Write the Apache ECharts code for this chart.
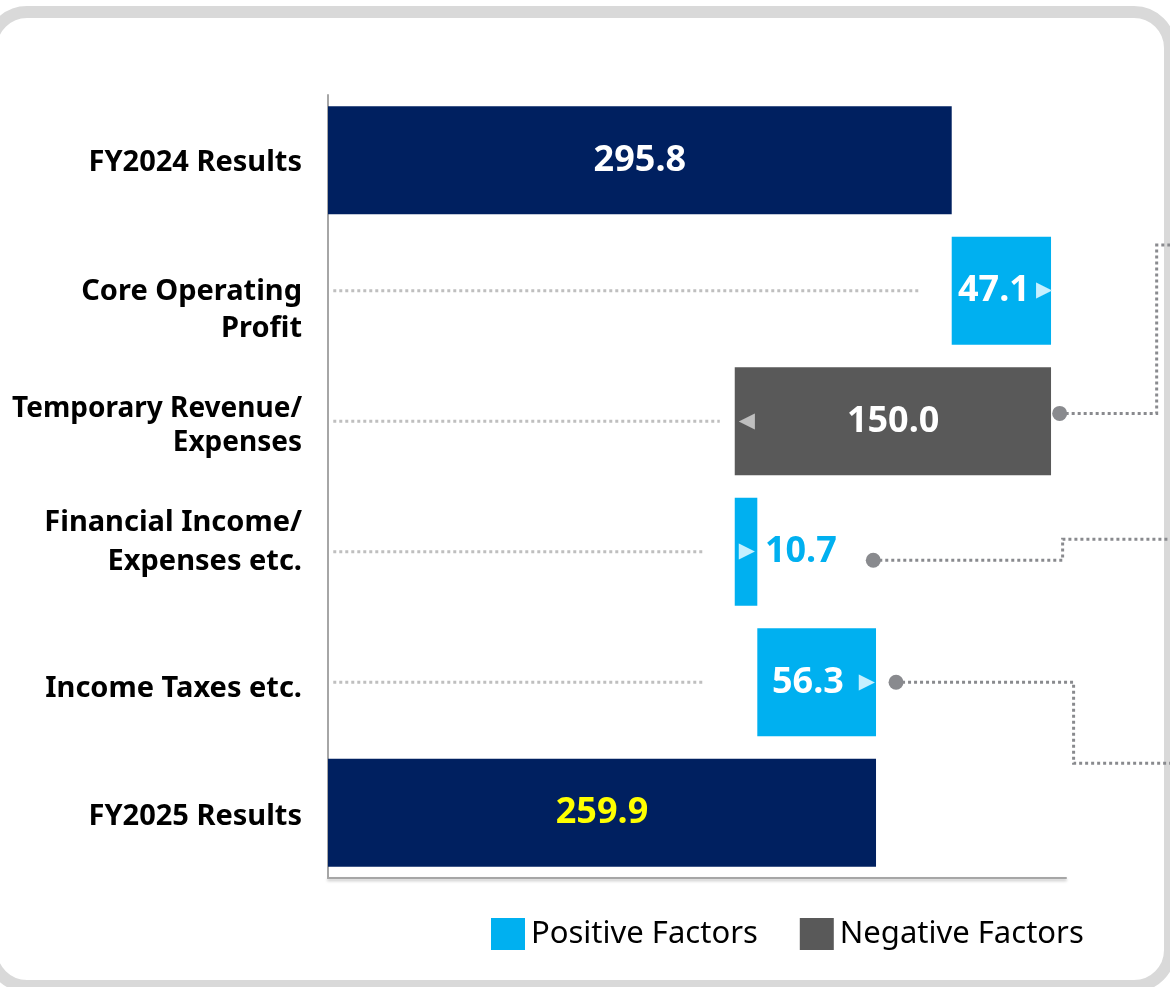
<!DOCTYPE html>
<html><head><meta charset="utf-8">
<script src="https://cdn.jsdelivr.net/npm/echarts@6/dist/echarts.min.js"></script>
<style>html,body{margin:0;padding:0;background:#fff;}#c{width:1170px;height:987px;}</style>
</head><body><div id="c"></div>
<script>
// ---- data ----
const categories = ['FY2024 Results', 'Core Operating\nProfit', 'Temporary Revenue/\nExpenses', 'Financial Income/\nExpenses etc.', 'Income Taxes etc.', 'FY2025 Results'];
const startValue = 295.8;
const changes = [47.1, -150.0, 10.7, 56.3];      // rows 1..4
const endValue = 259.9;
const legendNames = ['Positive Factors', 'Negative Factors'];
// dotted guide lines (axis units): from guideStart to guideEnds per change row
const guideStart = 2.5;
const guideEnds = [280.6, 185.8, 178.7, 178.7];
// connector annotations: [dotX, row, dotDyBand, turnX, turnDyBand, endX]
const connectors = [
  [347.0, 2, -0.06, 393.0, -1.35, 400.0],
  [258.6, 3, 0.065, 348.4, -0.095, 400.0],
  [269.4, 4, 0.0, 353.6, 0.62, 400.0]
];

// ---- build waterfall ----
const n = categories.length;
const base = new Array(n).fill('-');
const results = new Array(n).fill('-');
const pos = new Array(n).fill('-');
const neg = new Array(n).fill('-');
results[0] = startValue;
results[n - 1] = endValue;
let run = startValue;
changes.forEach((d, i) => {
  const r = i + 1;
  if (d >= 0) { base[r] = run; pos[r] = d; }
  else { base[r] = run + d; neg[r] = -d; }
  run += d;
});

// category label layout (vertical nudges / line spacing as in the reference)
const labelNudge = [2, 19, 5, -10, 6, 4];
const labelLineHeight = [37, 37, 34, 39, 37, 37];
const labelFontSize = [29, 29, 28, 29, 29, 29];
const LBL = { fontWeight: 'bold', color: '#000', fontFamily: 'Noto Sans', align: 'right' };
const yRich = {};
categories.forEach((c, i) => {
  yRich['t' + i] = Object.assign({}, LBL, { fontSize: labelFontSize[i], lineHeight: labelLineHeight[i] });
  yRich['s' + i] = { fontSize: 2, height: Math.abs(2 * labelNudge[i]), lineHeight: Math.abs(2 * labelNudge[i]) };
});
function yFormatter(value, index) {
  const lines = value.split('\n').map(l => '{t' + index + '|' + l + '}');
  const dy = labelNudge[index];
  if (dy > 0) lines.unshift('{s' + index + '| }');
  if (dy < 0) lines.push('{s' + index + '| }');
  return lines.join('\n');
}

const VAL = { fontSize: 36, fontWeight: 'bold', color: '#fff', fontFamily: 'Noto Sans' };
const ARW = { fontSize: 21, color: '#c6f0ff', fontFamily: 'DejaVu Sans' };

const resultsData = results.map((v, i) => v === '-' ? '-' : {
  value: v,
  label: { show: true, position: 'inside', formatter: v.toFixed(1),
    fontSize: 36, fontWeight: 'bold', fontFamily: 'Noto Sans',
    color: i === n - 1 ? '#ffff00' : '#fff' }
});
const posLabels = {
  1: { position: 'insideRight', distance: -1, formatter: '{v|47.1}{a|▶}',
       rich: { v: VAL, a: Object.assign({}, ARW, { padding: [0, 0, 0, 6] }) } },
  3: { position: 'insideLeft', distance: 4, formatter: '{a|▶}{v|10.7}',
       rich: { a: ARW, v: Object.assign({}, VAL, { color: '#00b0f0', padding: [0, 0, 0, 10] }) } },
  4: { position: 'insideRight', distance: 1, formatter: '{v|56.3}{a|▶}',
       rich: { v: VAL, a: Object.assign({}, ARW, { padding: [0, 0, 0, 15] }) } }
};
const posData = pos.map((v, i) => v === '-' ? '-' : {
  value: v,
  label: Object.assign({ show: true }, posLabels[i], {
    formatter: posLabels[i].formatter.replace(/\d+\.\d/, v.toFixed(1)) })
});
const negData = neg.map((v) => v === '-' ? '-' : {
  value: v,
  label: { show: true, position: 'insideLeft', distance: 4,
    formatter: '{a|◀}{v|' + v.toFixed(1) + '}',
    rich: { a: Object.assign({}, ARW, { color: '#bfbfbf' }),
            v: Object.assign({}, VAL, { padding: [0, 0, 0, 92] }) } }
});

const guideData = guideEnds.map((e, i) => [guideStart, i + 1, e]);

const chart = echarts.init(document.getElementById('c'), null, { renderer: 'canvas' });
chart.setOption({
  animation: false,
  backgroundColor: '#fff',
  textStyle: { fontFamily: 'Noto Sans' },
  graphic: [{
    type: 'rect', z: -10, silent: true,
    shape: { x: -9, y: 12, width: 1179, height: 974, r: 36 },
    style: { fill: '#fff', stroke: '#d9d9d9', lineWidth: 12 }
  }],
  grid: { left: 328, right: 104, top: 95, bottom: 109, containLabel: false },
  legend: {
    data: legendNames, left: 486, top: 913, itemWidth: 34, itemHeight: 32, itemGap: 42,
    icon: 'rect',
    textStyle: { fontSize: 31, color: '#000', fontFamily: 'Noto Sans', padding: [0, 0, 0, 1] }
  },
  xAxis: {
    type: 'value', min: 0, max: 350,
    axisLine: { show: true, lineStyle: { color: '#a6a6a6', width: 2, shadowColor: 'rgba(0,0,0,0.25)', shadowBlur: 3, shadowOffsetY: 2 } },
    axisTick: { show: false }, axisLabel: { show: false }, splitLine: { show: false }
  },
  yAxis: {
    type: 'category', data: categories, inverse: true,
    axisLine: { show: true, lineStyle: { color: '#a6a6a6', width: 2 } },
    axisTick: { show: false },
    axisLabel: { margin: 26, align: 'right', formatter: yFormatter, rich: yRich,
      fontSize: 29, fontWeight: 'bold', color: '#000', fontFamily: 'Noto Sans' }
  },
  series: [
    { name: 'base', type: 'bar', stack: 'w', barWidth: 108, silent: true,
      itemStyle: { color: 'transparent' }, data: base },
    { name: 'Results', type: 'bar', stack: 'w', barWidth: 108,
      itemStyle: { color: '#002060' }, data: resultsData },
    { name: legendNames[0], type: 'bar', stack: 'w', barWidth: 108,
      itemStyle: { color: '#00b0f0' }, data: posData },
    { name: legendNames[1], type: 'bar', stack: 'w', barWidth: 108,
      itemStyle: { color: '#595959' }, data: negData },
    { name: 'guides', type: 'custom', silent: true, clip: false, z: 1,
      data: guideData,
      renderItem: function (params, api) {
        const a = api.coord([api.value(0), api.value(1)]);
        const b = api.coord([api.value(2), api.value(1)]);
        return { type: 'line', shape: { x1: a[0], y1: a[1], x2: b[0], y2: b[1] },
          style: { stroke: '#bfbfbf', lineWidth: 3, lineDash: [3, 3] } };
      }
    },
    { name: 'connectors', type: 'custom', silent: true, clip: false, z: 5,
      data: connectors,
      renderItem: function (params, api) {
        const band = api.size([0, 1])[1];
        const row = api.value(1);
        const c = api.coord([api.value(0), row]);
        const y0 = c[1] + api.value(2) * band;
        const xt = api.coord([api.value(3), row])[0];
        const y1 = c[1] + api.value(4) * band;
        const xe = api.coord([api.value(5), row])[0];
        return { type: 'group', children: [
          { type: 'polyline', shape: { points: [[c[0], y0], [xt, y0], [xt, y1], [xe, y1]] },
            style: { stroke: '#898a8e', lineWidth: 3, lineDash: [3, 3], fill: null } },
          { type: 'circle', shape: { cx: c[0], cy: y0, r: 7.5 }, style: { fill: '#898a8e' } }
        ] };
      }
    }
  ]
});
</script>
</body></html>
